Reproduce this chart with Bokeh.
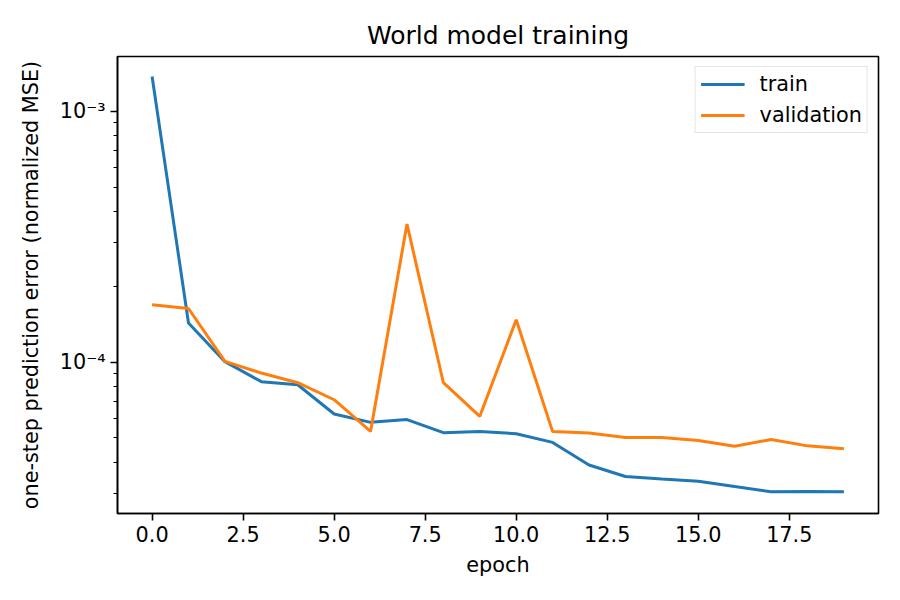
from bokeh.embed import file_html
from bokeh.models import FixedTicker, Legend, LegendItem, Range1d
from bokeh.plotting import figure
from bokeh.resources import INLINE

epochs = list(range(20))
train = [1.378e-3, 1.435e-4, 1.007e-4, 8.38e-5, 8.15e-5, 6.23e-5, 5.77e-5, 5.92e-5, 5.25e-5, 5.30e-5,
         5.20e-5, 4.80e-5, 3.90e-5, 3.51e-5, 3.43e-5, 3.36e-5, 3.20e-5, 3.05e-5, 3.06e-5, 3.05e-5]
validation = [1.698e-4, 1.64e-4, 1.01e-4, 9.07e-5, 8.30e-5, 7.10e-5, 5.31e-5, 3.56e-4, 8.30e-5, 6.10e-5,
              1.48e-4, 5.30e-5, 5.23e-5, 5.02e-5, 5.02e-5, 4.88e-5, 4.63e-5, 4.93e-5, 4.65e-5, 4.53e-5]

x_ticks = [0, 2.5, 5, 7.5, 10, 12.5, 15, 17.5]
y_major = [1e-4, 1e-3]
y_major_labels = ["10⁻⁴", "10⁻³"]
y_minor = [3e-5, 4e-5, 5e-5, 6e-5, 7e-5, 8e-5, 9e-5,
           2e-4, 3e-4, 4e-4, 5e-4, 6e-4, 7e-4, 8e-4, 9e-4]

FONT = "DejaVu Sans"
TICK_PX = "20.8px"

p = figure(frame_width=761, frame_height=457, y_axis_type="log",
           x_range=Range1d(-0.95, 19.95), y_range=Range1d(2.5e-5, 1.656e-3),
           output_backend="svg", toolbar_location=None,
           min_border_left=117, min_border_right=22, min_border_top=56, min_border_bottom=87)

p.title.text = "World model training"
p.title.align = "center"
p.title.text_font = FONT
p.title.text_font_size = "25px"
p.title.text_font_style = "normal"
p.title.text_color = "black"
p.title.standoff = 13

p.outline_line_color = "black"
p.outline_line_width = 1.6
p.xgrid.visible = False
p.ygrid.visible = False

for ax in (p.xaxis[0], p.yaxis[0]):
    ax.axis_line_width = 1.6
    ax.major_tick_out = 7
    ax.major_tick_in = 0
    ax.major_tick_line_width = 1.6
    ax.minor_tick_out = 4
    ax.minor_tick_in = 0
    ax.minor_tick_line_width = 1.2
    ax.major_label_text_font = FONT
    ax.major_label_text_font_size = TICK_PX
    ax.major_label_text_color = "black"
    ax.axis_label_text_font = FONT
    ax.axis_label_text_font_size = TICK_PX
    ax.axis_label_text_font_style = "normal"
    ax.axis_label_text_color = "black"

p.xaxis.ticker = FixedTicker(ticks=x_ticks)
p.xaxis.major_label_overrides = {t: f"{t:.1f}" for t in x_ticks}
p.xaxis.axis_label = "epoch"
p.xaxis.major_label_standoff = 5
p.xaxis.axis_label_standoff = 8

p.yaxis.ticker = FixedTicker(ticks=y_major, minor_ticks=y_minor)
p.yaxis.major_label_overrides = dict(zip(y_major, y_major_labels))
p.yaxis.axis_label = "one-step prediction error (normalized MSE)"
p.yaxis.major_label_standoff = 5
p.yaxis.axis_label_standoff = 14

r_train = p.line(epochs, train, line_color="#1f77b4", line_width=3)
r_val = p.line(epochs, validation, line_color="#ff7f0e", line_width=3)

legend = Legend(items=[LegendItem(label="train", renderers=[r_train]),
                       LegendItem(label="validation", renderers=[r_val])],
                location="top_right")
legend.margin = 10
legend.padding = 5
legend.spacing = 7
legend.glyph_width = 44
legend.glyph_height = 24
legend.label_height = 24
legend.label_standoff = 15
legend.label_text_font = FONT
legend.label_text_font_size = TICK_PX
legend.label_text_color = "black"
legend.border_line_color = "#cccccc"
legend.border_line_width = 1.5
legend.background_fill_alpha = 0.8
p.add_layout(legend)

open("out.html", "w").write(file_html(p, INLINE))
